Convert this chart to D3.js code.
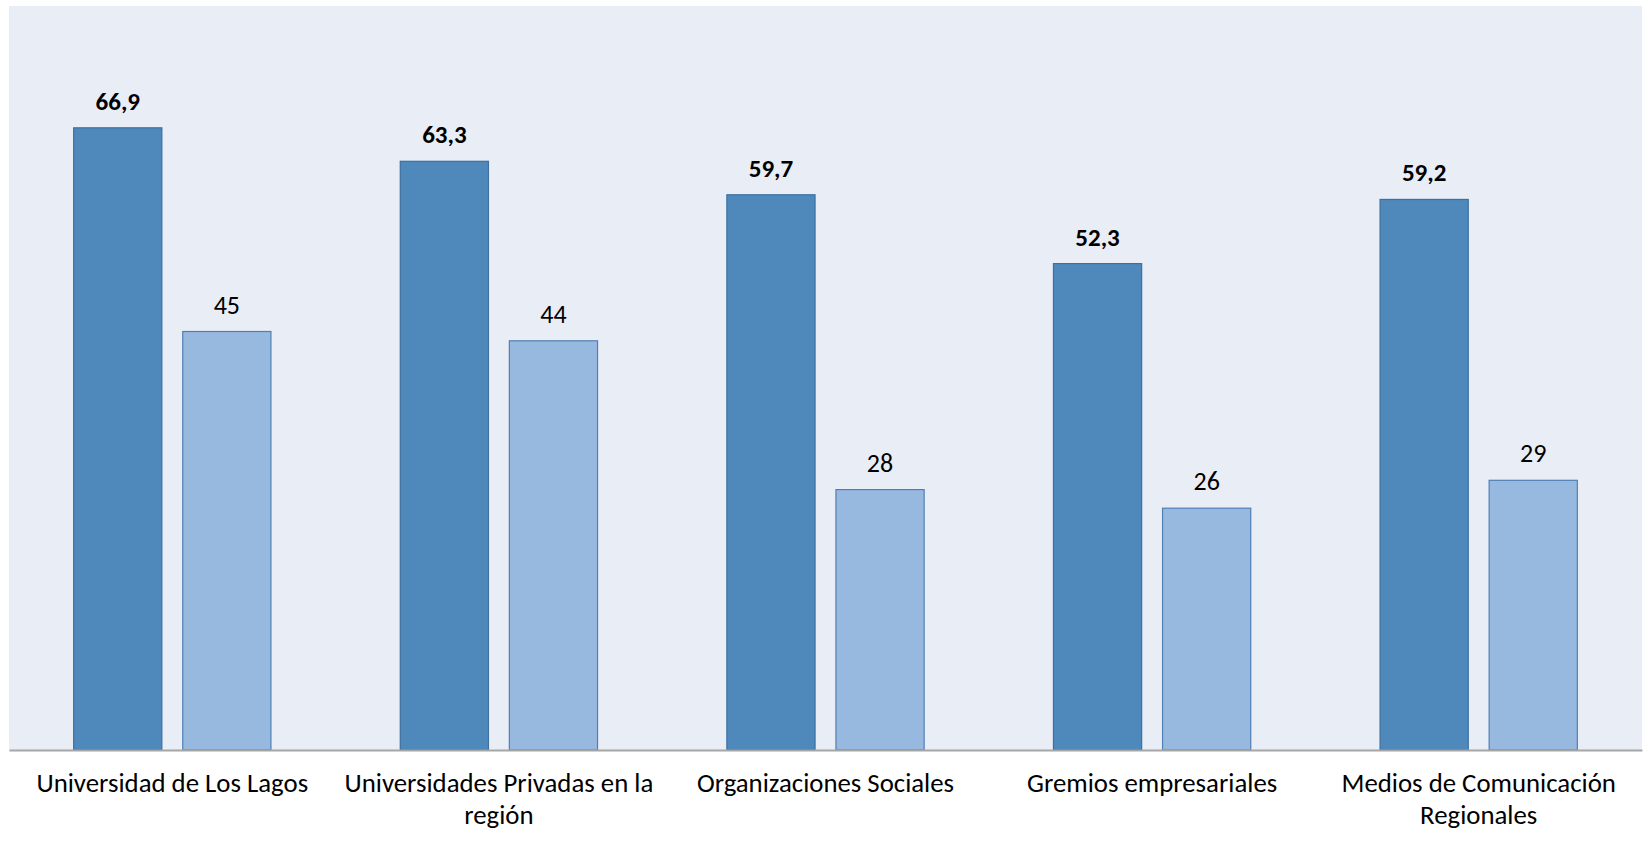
<!DOCTYPE html>
<html>
<head>
<meta charset="utf-8">
<script src="https://cdn.jsdelivr.net/npm/d3@7"></script>
<style>
  html, body { margin: 0; padding: 0; background: #ffffff; }
  svg { display: block; }
  text { font-family: Carlito, Calibri, Lato, "Open Sans", sans-serif; }
</style>
</head>
<body>
<script>
const categories = [
  "Universidad de Los Lagos",
  "Universidades Privadas en la región",
  "Organizaciones Sociales",
  "Gremios empresariales",
  "Medios de Comunicación Regionales"
];
const seriesA = [66.9, 63.3, 59.7, 52.3, 59.2];
const seriesB = [45, 44, 28, 26, 29];
const labelsA = ["66,9", "63,3", "59,7", "52,3", "59,2"];
const labelsB = ["45", "44", "28", "26", "29"];
const yDomain = [0, 80];

const W = 1644, H = 846;
const plot = { left: 9, right: 1642, top: 6, bottom: 750 };

const svg = d3.select("body").append("svg").attr("width", W).attr("height", H);

svg.append("rect")
  .attr("x", plot.left).attr("y", plot.top)
  .attr("width", plot.right - plot.left).attr("height", plot.bottom - plot.top)
  .attr("fill", "#E9EDF6");

const x = d3.scaleBand().domain(categories).range([plot.left, plot.right]).paddingInner(0).paddingOuter(0);
const y = d3.scaleLinear().domain(yDomain).range([plot.bottom, plot.top]);

const barW = x.bandwidth() * 0.27;
const gap = x.bandwidth() * 0.064;

const groups = svg.append("g").selectAll("g")
  .data(categories)
  .join("g")
  .attr("transform", d => `translate(${x(d) + x.bandwidth() / 2},0)`);

groups.append("rect")
  .attr("x", -gap / 2 - barW)
  .attr("width", barW)
  .attr("y", (d, i) => y(seriesA[i]))
  .attr("height", (d, i) => y(0) - y(seriesA[i]))
  .attr("fill", "#4F89BC")
  .attr("stroke", "#3C6FA0")
  .attr("stroke-width", 1.2);

groups.append("rect")
  .attr("x", gap / 2)
  .attr("width", barW)
  .attr("y", (d, i) => y(seriesB[i]))
  .attr("height", (d, i) => y(0) - y(seriesB[i]))
  .attr("fill", "#98B9DF")
  .attr("stroke", "#4F7FB3")
  .attr("stroke-width", 1.2);

groups.append("text")
  .attr("x", -gap / 2 - barW / 2)
  .attr("y", (d, i) => y(seriesA[i]) - 18)
  .attr("text-anchor", "middle")
  .attr("font-size", 25)
  .attr("font-weight", "bold")
  .attr("fill", "#000")
  .text((d, i) => labelsA[i]);

groups.append("text")
  .attr("x", gap / 2 + barW / 2)
  .attr("y", (d, i) => y(seriesB[i]) - 18)
  .attr("text-anchor", "middle")
  .attr("font-size", 26)
  .attr("fill", "#000")
  .text((d, i) => labelsB[i]);

// axis line
const xAxis = d3.axisBottom(x).tickSize(0).tickFormat("");
const axisG = svg.append("g").attr("transform", `translate(0,${plot.bottom})`).call(xAxis);
axisG.select(".domain").attr("stroke", "#A6A6A6").attr("stroke-width", 2);

// category labels with wrapping
const maxW = x.bandwidth();
groups.each(function(d) {
  const g = d3.select(this);
  const t = g.append("text")
    .attr("text-anchor", "middle")
    .attr("font-size", 26.8)
    .attr("fill", "#000");
  const words = d.split(" ");
  let lines = [];
  let line = [];
  let tsp = t.append("tspan").attr("x", 0);
  for (const w of words) {
    line.push(w);
    tsp.text(line.join(" "));
    if (tsp.node().getComputedTextLength() > maxW && line.length > 1) {
      line.pop();
      lines.push(line.join(" "));
      line = [w];
      tsp.text(w);
    }
  }
  lines.push(line.join(" "));
  t.selectAll("tspan").remove();
  lines.forEach((l, i) => {
    t.append("tspan").attr("x", 0).attr("y", plot.bottom + 42 + i * 31.5).text(l);
  });
});
</script>
</body>
</html>
